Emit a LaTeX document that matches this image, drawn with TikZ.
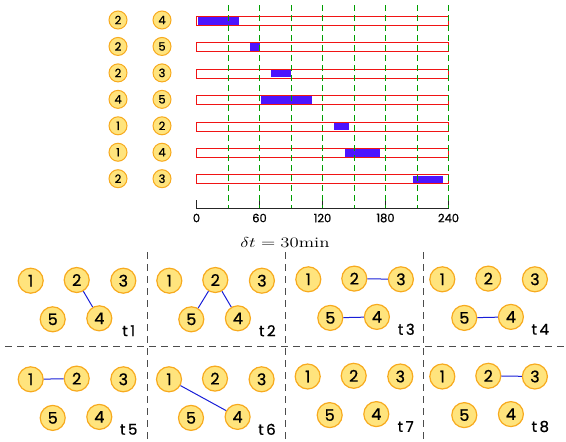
\documentclass[tikz,border=0pt]{standalone}
\usepackage{fontspec}
\newfontfamily\pop{Poppins}[FakeBold=0.8]
\definecolor{nodefill}{RGB}{255,228,125}
\definecolor{nodeline}{RGB}{247,170,30}
\definecolor{barblue}{RGB}{75,20,255}
\definecolor{edgeblue}{RGB}{25,30,215}
\definecolor{gridgreen}{RGB}{0,160,0}
\definecolor{barred}{RGB}{240,20,20}
\tikzset{
  x=1pt, y=-1pt,
  smallnode/.style={circle, draw=nodeline, fill=nodefill, line width=1pt, minimum size=18pt, inner sep=0pt, font=\pop\fontsize{11.5}{11.5}\selectfont},
  bignode/.style={circle, draw=nodeline, fill=nodefill, line width=1.2pt, minimum size=25pt, inner sep=0pt, font=\pop\fontsize{16}{16}\selectfont},
  tlabel/.style={inner sep=0pt, font=\pop\fontsize{15}{15}\selectfont},
  axlabel/.style={inner sep=0pt, font=\pop\fontsize{11.5}{11.5}\selectfont},
  edge/.style={draw=edgeblue, line width=1pt},
  barbox/.style={draw=barred, fill=white, line width=1pt},
  barfill/.style={fill=barblue},
  greendash/.style={draw=gridgreen, line width=1pt, dash pattern=on 6pt off 4pt},
  griddash/.style={draw=black!70, line width=0.9pt, dash pattern=on 7pt off 5pt},
}
\newcommand{\mypanel}[4]{% name, x, y, label
  \node[bignode] (#1n1) at (#2,#3) {1};
  \node[bignode] (#1n2) at (#2+46,#3-0.7) {2};
  \node[bignode] (#1n3) at (#2+92.6,#3) {3};
  \node[bignode] (#1n5) at (#2+22,#3+38.6) {5};
  \node[bignode] (#1n4) at (#2+68.6,#3+37.6) {4};
  \node[tlabel] (#1lab) at (#2+98,#3+50) {t\hspace{2.5pt}#4};
}
\begin{document}
\begin{tikzpicture}
\useasboundingbox (0,0) rectangle (566,442);
% bars
\foreach \i/\a/\b/\s/\e in {0/2/4/0/40, 1/2/5/50/60, 2/2/3/70/90, 3/4/5/60/110, 4/1/2/130/145, 5/1/4/140/175, 6/2/3/205/235} {
  \pgfmathsetmacro{\yy}{20.7+26.45*\i}
  \node[smallnode] (l\i) at (118,\yy-0.7) {\a};
  \node[smallnode] (r\i) at (162,\yy-0.7) {\b};
  \draw[barbox] (196.5,\yy-4.5) rectangle (448.5,\yy+4.5);
  \fill[barfill] (196.5+1.05*\s+1,\yy-3.8) rectangle (196.5+1.05*\e,\yy+3.8);
}
% axis
\draw[black!85, line width=1pt] (196.5,200) -- (196.5,208) -- (448.5,208);
\foreach \m in {60,120,180,240} {
  \draw[black!85, line width=1pt] (196.5+1.05*\m,200) -- (196.5+1.05*\m,208);
}
\foreach \m in {30,60,...,240} {
  \draw[greendash] (196.5+1.05*\m,5) -- (196.5+1.05*\m,208);
}
\foreach \m in {0,60,120,180,240} {
  \node[axlabel] (ax\m) at (196.5+1.05*\m,218) {\m};
}
\node[inner sep=0pt] (dt) at (285,242) {\scalebox{1.3}[1]{\fontsize{14.5}{14.5}\selectfont$\delta t = 30\mathrm{min}$}};
% grid
\draw[griddash] (5,346.5) -- (566,346.5);
\foreach \xx in {147,285,423} {
  \draw[griddash] (\xx,252) -- (\xx,442);
}
% panels
\mypanel{pa}{30.7}{280.7}{1}
\mypanel{pb}{169.3}{280.7}{2}
\mypanel{pc}{308.3}{279.3}{3}
\mypanel{pd}{442.3}{279.3}{4}
\mypanel{pe}{30.7}{379.3}{5}
\mypanel{pf}{169}{379.3}{6}
\mypanel{pg}{307.7}{376.5}{7}
\mypanel{ph}{442.3}{376.5}{8}
% edges
\draw[edge] (pan2) -- (pan4);
\draw[edge] (pbn2) -- (pbn5);
\draw[edge] (pbn2) -- (pbn4);
\draw[edge] (pcn2) -- (pcn3);
\draw[edge] (pcn5) -- (pcn4);
\draw[edge] (pdn5) -- (pdn4);
\draw[edge] (pen1) -- (pen2);
\draw[edge] (pfn1) -- (pfn4);
\draw[edge] (phn2) -- (phn3);
\end{tikzpicture}
\end{document}
